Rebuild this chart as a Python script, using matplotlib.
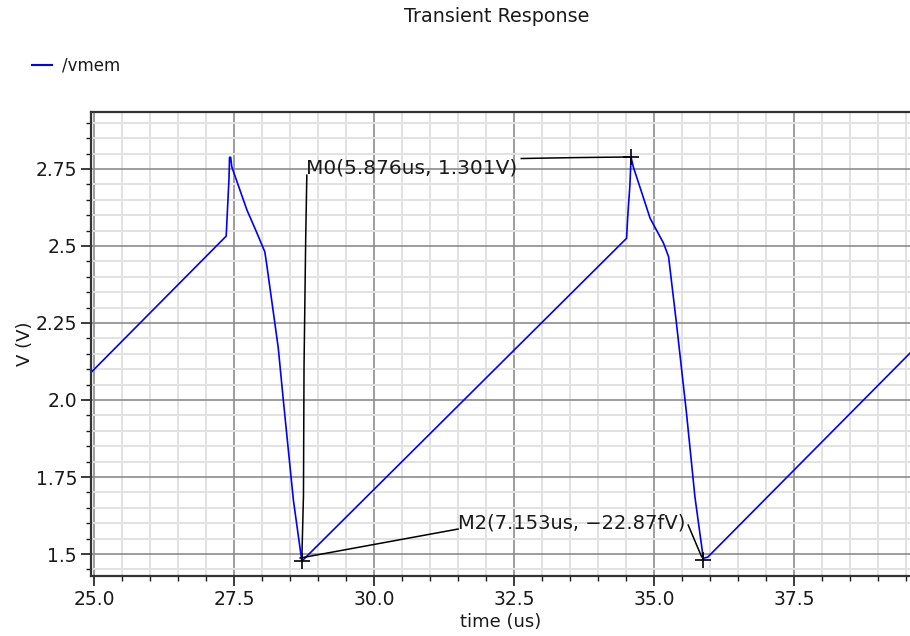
import matplotlib
matplotlib.use("Agg")
import matplotlib.pyplot as plt
from matplotlib.lines import Line2D
from matplotlib.ticker import MultipleLocator

# /vmem waveform (time in us, volts)
time_us = [24.95, 27.36, 27.38, 27.41, 27.42, 27.44, 27.46, 27.73, 27.90, 28.05,
           28.08, 28.29, 28.38, 28.56, 28.71, 28.74, 34.51, 34.53, 34.57, 34.59,
           34.63, 34.93, 35.17, 35.26, 35.40, 35.58, 35.73, 35.88, 35.96, 39.57]
vmem = [2.090, 2.532, 2.607, 2.718, 2.788, 2.788, 2.757, 2.617, 2.546, 2.481,
        2.445, 2.169, 2.000, 1.675, 1.478, 1.482, 2.525, 2.595, 2.700, 2.788,
        2.757, 2.590, 2.509, 2.465, 2.250, 1.957, 1.686, 1.486, 1.490, 2.152]

# markers ("+") and their labels
marker_x = [28.71, 34.59, 35.88]
marker_y = [1.478, 2.788, 1.480]
m0_label = "M0(5.876us, 1.301V)"
m0_pos = (28.79, 2.753)
m2_label = "M2(7.153us, \u221222.87fV)"
m2_pos = (31.50, 1.601)

# leader lines from labels to markers
m0_lead_h = ([32.63, 33.60, 34.59], [2.784, 2.787, 2.789])
m0_lead_v = ([28.80, 28.78, 28.75, 28.74, 28.71], [2.730, 2.526, 2.107, 1.688, 1.478])
m2_lead_a = ([28.68, 31.50], [1.487, 1.581])
m2_lead_b = ([35.61, 35.85], [1.594, 1.491])

xticks = [25.0, 27.5, 30.0, 32.5, 35.0, 37.5]
xtick_labels = ["25.0", "27.5", "30.0", "32.5", "35.0", "37.5"]
yticks = [1.5, 1.75, 2.0, 2.25, 2.5, 2.75]
ytick_labels = ["1.5", "1.75", "2.0", "2.25", "2.5", "2.75"]

FG = "#1a1a1a"
plt.rcParams.update({
    "font.family": "DejaVu Sans",
    "text.color": FG,
    "axes.labelcolor": FG,
    "xtick.color": FG,
    "ytick.color": FG,
})

fig = plt.figure(figsize=(9.1, 6.36), dpi=100)
ax = fig.add_axes([91 / 910, 1 - 576 / 636, (910 - 91) / 910, (576 - 112) / 636])

ax.set_xlim(24.946, 39.571)
ax.set_ylim(1.4286, 2.935)

ax.xaxis.set_minor_locator(MultipleLocator(0.5))
ax.yaxis.set_minor_locator(MultipleLocator(0.05))
ax.set_xticks(xticks)
ax.set_xticklabels(xtick_labels)
ax.set_yticks(yticks)
ax.set_yticklabels(ytick_labels)

ax.grid(which="minor", color="#e2e2e2", lw=1.4)
ax.grid(which="major", color="#8c8c8c", lw=1.2)
ax.set_axisbelow(True)

ax.tick_params(which="major", length=7.5, width=1.2, labelsize=13.5, pad=2.5)
ax.tick_params(which="minor", length=3.6, width=1.0)
for side in ["left", "bottom", "top"]:
    ax.spines[side].set_linewidth(1.6)
    ax.spines[side].set_color("#333333")
ax.spines["right"].set_visible(False)

line, = ax.plot(time_us, vmem, color="#0000ff", lw=1.2)

# marker annotations
for xs, ys in [m0_lead_h, m0_lead_v, m2_lead_a, m2_lead_b]:
    ax.plot(xs, ys, color="black", lw=1.1)
ax.plot(marker_x, marker_y, "+", color="black", ms=11, mew=1.2)
ax.text(m0_pos[0], m0_pos[1], m0_label, fontsize=14.5, va="center", ha="left",
        color=FG)
ax.text(m2_pos[0], m2_pos[1], m2_label, fontsize=14, va="center", ha="left",
        color=FG)

ax.set_xlabel("time (us)", fontsize=13, labelpad=3)
ax.set_ylabel("V (V)", fontsize=13, labelpad=1)

fig.text(497 / 910, 1 - 17 / 636, "Transient Response", fontsize=13.8,
         ha="center", va="center")
fig.legend(handles=[Line2D([], [], color="#0000ff", lw=1.5)], labels=["/vmem"],
           loc="center left", bbox_to_anchor=(32 / 910, 1 - 66 / 636),
           frameon=False, fontsize=12, handlelength=1.2, handletextpad=0.6,
           borderpad=0, borderaxespad=0)

fig.savefig("out.png", dpi=100)
